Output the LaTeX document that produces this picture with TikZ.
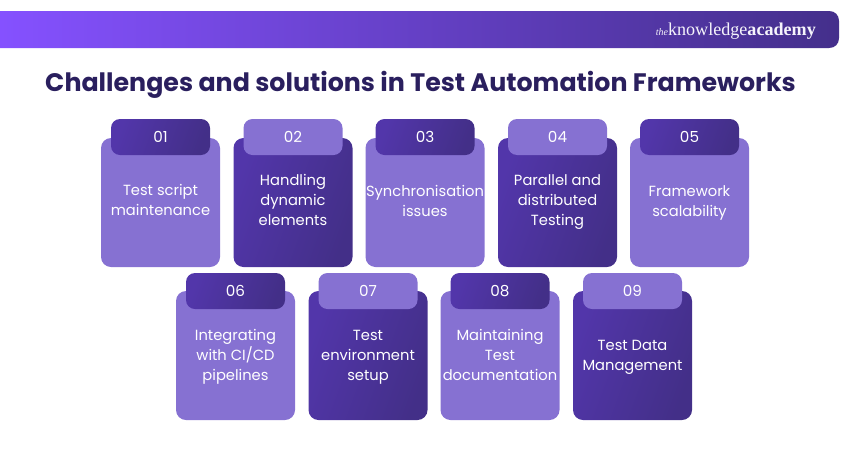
\documentclass[tikz,border=0pt]{standalone}
\usepackage{fontspec}
\setmainfont{Poppins}
\newfontfamily\logofont{Liberation Serif}
\definecolor{lightcard}{HTML}{8671D2}
\definecolor{darkA}{HTML}{5236AA}
\definecolor{darkB}{HTML}{432F88}
\definecolor{titleink}{HTML}{2A1F5E}
\definecolor{barA}{HTML}{8551FF}
\definecolor{barB}{HTML}{442F8B}
\tikzset{
  x=1pt,y=-1pt,
  cardbase/.style={minimum width=119pt,minimum height=129pt,rounded corners=10pt,inner sep=0pt},
  tabbase/.style={minimum width=99pt,minimum height=36pt,rounded corners=9pt,inner sep=0pt,text=white,font=\fontsize{15.2}{20}\selectfont},
  lightfill/.style={fill=lightcard},
  darkfill/.style={left color=darkA,right color=darkB,shading angle=70},
  lightcardbox/.style={cardbase,lightfill},
  darkcardbox/.style={cardbase,darkfill},
  lighttab/.style={tabbase,lightfill},
  darktab/.style={tabbase,darkfill},
  cardtext/.style={inner sep=0pt,text=white,align=center,font=\fontsize{14.7}{20}\selectfont},
}
\begin{document}
\begin{tikzpicture}
\useasboundingbox (0,0) rectangle (850,450);
\shade[left color=barA,right color=barB] (0,11) -- (829,11) .. controls (835,11) and (839,15) .. (839,21) -- (839,38) .. controls (839,44) and (835,48) .. (829,48) -- (0,48) -- cycle;
\node[text=white!92!lightcard,anchor=base east,inner sep=0pt] (logo) at (816,35) {\logofont\fontsize{10}{12}\selectfont\textit{the}\fontsize{18.1}{20}\selectfont knowledge\textbf{academy}};
\node[text=titleink,inner sep=0pt,font=\fontsize{25.3}{30}\bfseries\selectfont] (title) at (420.5,85) {Challenges and solutions in Test Automation Frameworks};

\node[lightcardbox] (c1) at (160.5,202.5) {};
\node[darktab] (t1) at (160.5,137) {01};
\node[cardtext] (l1) at (160.5,201) {\strut Test script\\\strut maintenance};
\node[darkcardbox] (c2) at (293,202.5) {};
\node[lighttab] (t2) at (293,137) {02};
\node[cardtext] (l2) at (293,201) {\strut Handling\\\strut dynamic\\\strut elements};
\node[lightcardbox] (c3) at (425,202.5) {};
\node[darktab] (t3) at (425,137) {03};
\node[cardtext] (l3) at (425,202) {\strut Synchronisation\\\strut issues};
\node[darkcardbox] (c4) at (557.5,202.5) {};
\node[lighttab] (t4) at (557.5,137) {04};
\node[cardtext] (l4) at (557.5,201) {\strut Parallel and\\\strut distributed\\\strut Testing};
\node[lightcardbox] (c5) at (689.5,202.5) {};
\node[darktab] (t5) at (689.5,137) {05};
\node[cardtext] (l5) at (689.5,202) {\strut Framework\\\strut scalability};

\node[lightcardbox] (c6) at (235.5,355.5) {};
\node[darktab] (t6) at (235.5,291) {06};
\node[cardtext] (l6) at (235.5,356) {\strut Integrating\\\strut with CI/CD\\\strut pipelines};
\node[darkcardbox] (c7) at (368,355.5) {};
\node[lighttab] (t7) at (368,291) {07};
\node[cardtext] (l7) at (368,356) {\strut Test\\\strut environment\\\strut setup};
\node[lightcardbox] (c8) at (500,355.5) {};
\node[darktab] (t8) at (500,291) {08};
\node[cardtext] (l8) at (500,356) {\strut Maintaining\\\strut Test\\\strut documentation};
\node[darkcardbox] (c9) at (632.5,355.5) {};
\node[lighttab] (t9) at (632.5,291) {09};
\node[cardtext] (l9) at (632.5,356) {\strut Test Data\\\strut Management};
\end{tikzpicture}
\end{document}
